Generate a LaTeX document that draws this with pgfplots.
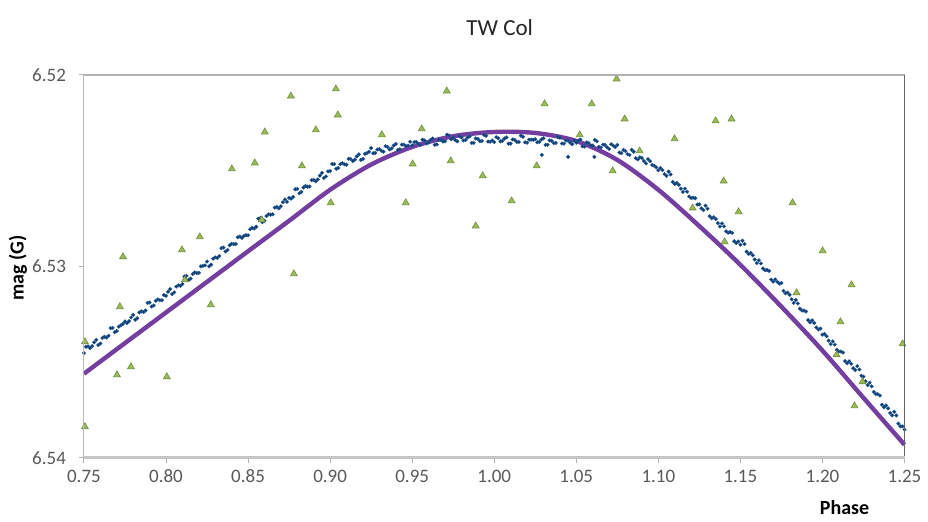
\documentclass[border=0pt]{standalone}
\usepackage{fontspec}
\setmainfont{Carlito}
\usepackage{pgfplots}
\pgfplotsset{compat=1.18}
\usetikzlibrary{calc}
\definecolor{dotnavy}{RGB}{24,56,98}
\definecolor{dotedge}{RGB}{30,95,165}
\definecolor{trifill}{RGB}{155,187,89}
\definecolor{triedge}{RGB}{112,140,58}
\definecolor{fitpurple}{RGB}{115,62,160}
\definecolor{ticktext}{RGB}{89,89,89}

\begin{document}
\begin{tikzpicture}
\begin{axis}[
  scale only axis,
  width=410.5pt, height=191.5pt,
  xmin=0.75, xmax=1.25, ymin=6.52, ymax=6.54,
  y dir=reverse,
  xtick={0.75,0.80,0.85,0.90,0.95,1.00,1.05,1.10,1.15,1.20,1.25},
  ytick={6.52,6.53,6.54},
  xtick pos=left, ytick pos=left,
  tick align=outside, major tick length=2.5pt,
  tick style={gray!60, line width=0.5pt},
  axis line style={draw=none},
  /pgf/number format/assume math mode=true,
  /pgf/number format/fixed,
  /pgf/number format/fixed zerofill,
  /pgf/number format/precision=2,
  yticklabel style={xshift=-3pt},
  tick label style={font=\fontsize{9.5}{11}\selectfont, text=ticktext},
  scaled ticks=false,
  clip=false,
]
% phased photometry (dense band), first half of the points
\addplot[only marks, mark=*, mark size=0.9pt,
  mark options={fill=dotnavy, draw=dotedge, line width=0.2pt}] coordinates {
(0.7500,6.53453)(0.7525,6.53418)(0.7550,6.53417)(0.7575,6.53384)(0.7600,6.53403)
(0.7625,6.53368)(0.7650,6.53363)(0.7675,6.53322)(0.7700,6.53338)(0.7725,6.53308)
(0.7750,6.53288)(0.7775,6.53286)(0.7800,6.53253)(0.7825,6.53271)(0.7850,6.53235)
(0.7875,6.53231)(0.7900,6.53189)(0.7925,6.53204)(0.7950,6.53173)(0.7975,6.53177)
(0.8000,6.53154)(0.8025,6.53119)(0.8050,6.53136)(0.8075,6.53099)(0.8100,6.53093)
(0.8125,6.53050)(0.8150,6.53064)(0.8175,6.53032)(0.8200,6.53034)(0.8225,6.52997)
(0.8250,6.52975)(0.8275,6.52991)(0.8300,6.52953)(0.8325,6.52946)(0.8350,6.52902)
(0.8375,6.52915)(0.8400,6.52882)(0.8425,6.52883)(0.8450,6.52844)(0.8475,6.52841)
(0.8500,6.52838)(0.8525,6.52799)(0.8550,6.52793)(0.8575,6.52748)(0.8600,6.52762)
(0.8625,6.52728)(0.8650,6.52728)(0.8675,6.52690)(0.8700,6.52686)(0.8725,6.52650)
(0.8750,6.52642)(0.8775,6.52637)(0.8800,6.52596)(0.8825,6.52611)(0.8850,6.52580)
(0.8875,6.52583)(0.8900,6.52548)(0.8925,6.52546)(0.8950,6.52512)(0.8975,6.52530)
(0.9000,6.52502)(0.9025,6.52466)(0.9050,6.52486)(0.9075,6.52461)(0.9100,6.52469)
(0.9125,6.52439)(0.9150,6.52443)(0.9175,6.52415)(0.9200,6.52439)(0.9225,6.52408)
(0.9250,6.52382)(0.9275,6.52408)(0.9300,6.52387)(0.9325,6.52401)(0.9350,6.52376)
(0.9375,6.52384)(0.9400,6.52361)(0.9425,6.52389)(0.9450,6.52364)(0.9475,6.52369)
(0.9500,6.52368)(0.9525,6.52350)(0.9550,6.52366)(0.9575,6.52342)(0.9600,6.52353)
(0.9625,6.52332)(0.9650,6.52363)(0.9675,6.52339)(0.9700,6.52346)(0.9725,6.52316)
(0.9750,6.52328)(0.9775,6.52347)(0.9800,6.52326)(0.9825,6.52340)(0.9850,6.52321)
(0.9875,6.52355)(0.9900,6.52334)(0.9925,6.52345)(0.9950,6.52318)(0.9975,6.52349)
(1.0000,6.52351)(1.0025,6.52331)(1.0050,6.52344)(1.0075,6.52326)(1.0100,6.52359)
(1.0125,6.52339)(1.0150,6.52350)(1.0175,6.52323)(1.0200,6.52354)(1.0225,6.52338)
(1.0250,6.52336)(1.0275,6.52350)(1.0300,6.52331)(1.0325,6.52365)(1.0350,6.52344)
(1.0375,6.52355)(1.0400,6.52328)(1.0425,6.52359)(1.0450,6.52343)(1.0475,6.52362)
(1.0500,6.52354)(1.0525,6.52338)(1.0550,6.52374)(1.0575,6.52356)(1.0600,6.52369)
(1.0625,6.52346)(1.0650,6.52379)(1.0675,6.52366)(1.0700,6.52387)(1.0725,6.52369)
(1.0750,6.52366)(1.0775,6.52409)(1.0800,6.52398)(1.0825,6.52418)(1.0850,6.52401)
(1.0875,6.52441)(1.0900,6.52434)(1.0925,6.52462)(1.0950,6.52451)(1.0975,6.52474)
(1.1000,6.52498)(1.1025,6.52497)(1.1050,6.52527)(1.1075,6.52520)(1.1100,6.52570)
(1.1125,6.52574)(1.1150,6.52611)(1.1175,6.52610)(1.1200,6.52643)(1.1225,6.52644)
(1.1250,6.52676)(1.1275,6.52706)(1.1300,6.52699)(1.1325,6.52749)(1.1350,6.52753)
(1.1375,6.52792)(1.1400,6.52791)(1.1425,6.52824)(1.1450,6.52825)(1.1475,6.52878)
(1.1500,6.52887)(1.1525,6.52883)(1.1550,6.52935)(1.1575,6.52942)(1.1600,6.52983)
(1.1625,6.52985)(1.1650,6.53020)(1.1675,6.53024)(1.1700,6.53080)(1.1725,6.53081)
(1.1750,6.53087)(1.1775,6.53141)(1.1800,6.53149)(1.1825,6.53191)(1.1850,6.53194)
(1.1875,6.53231)(1.1900,6.53236)(1.1925,6.53293)(1.1950,6.53296)(1.1975,6.53330)
(1.2000,6.53357)(1.2025,6.53365)(1.2050,6.53406)(1.2075,6.53409)(1.2100,6.53445)
(1.2125,6.53450)(1.2150,6.53506)(1.2175,6.53509)(1.2200,6.53542)(1.2225,6.53539)
(1.2250,6.53576)(1.2275,6.53621)(1.2300,6.53627)(1.2325,6.53667)(1.2350,6.53675)
(1.2375,6.53736)(1.2400,6.53742)(1.2425,6.53779)(1.2450,6.53779)(1.2475,6.53836)
(1.2500,6.53853)
(1.0290,6.52418)(1.0450,6.52428)(1.0610,6.52428)
};
% phased photometry, second half of the points
\addplot[only marks, mark=*, mark size=0.9pt,
  mark options={fill=dotnavy, draw=dotedge, line width=0.2pt}] coordinates {
(0.75125,6.53420)(0.75375,6.53427)(0.75625,6.53397)(0.75875,6.53411)(0.76125,6.53374)
(0.76375,6.53372)(0.76625,6.53323)(0.76875,6.53344)(0.77125,6.53315)(0.77375,6.53300)
(0.77625,6.53296)(0.77875,6.53267)(0.78125,6.53279)(0.78375,6.53241)(0.78625,6.53239)
(0.78875,6.53191)(0.79125,6.53210)(0.79375,6.53180)(0.79625,6.53177)(0.79875,6.53150)
(0.80125,6.53133)(0.80375,6.53145)(0.80625,6.53106)(0.80875,6.53102)(0.81125,6.53053)
(0.81375,6.53071)(0.81625,6.53040)(0.81875,6.53035)(0.82125,6.53000)(0.82375,6.52995)
(0.82625,6.53000)(0.82875,6.52960)(0.83125,6.52956)(0.83375,6.52905)(0.83625,6.52922)
(0.83875,6.52890)(0.84125,6.52884)(0.84375,6.52848)(0.84625,6.52851)(0.84875,6.52837)
(0.85125,6.52806)(0.85375,6.52802)(0.85625,6.52751)(0.85875,6.52769)(0.86125,6.52737)
(0.86375,6.52730)(0.86625,6.52693)(0.86875,6.52697)(0.87125,6.52665)(0.87375,6.52663)
(0.87625,6.52646)(0.87875,6.52597)(0.88125,6.52618)(0.88375,6.52588)(0.88625,6.52584)
(0.88875,6.52550)(0.89125,6.52556)(0.89375,6.52526)(0.89625,6.52538)(0.89875,6.52504)
(0.90125,6.52465)(0.90375,6.52490)(0.90625,6.52466)(0.90875,6.52467)(0.91125,6.52438)
(0.91375,6.52450)(0.91625,6.52426)(0.91875,6.52444)(0.92125,6.52412)(0.92375,6.52401)
(0.92625,6.52409)(0.92875,6.52390)(0.93125,6.52396)(0.93375,6.52372)(0.93625,6.52389)
(0.93875,6.52369)(0.94125,6.52392)(0.94375,6.52364)(0.94625,6.52372)(0.94875,6.52349)
(0.95125,6.52351)(0.95375,6.52360)(0.95625,6.52338)(0.95875,6.52357)(0.96125,6.52339)
(0.96375,6.52365)(0.96625,6.52339)(0.96875,6.52348)(0.97125,6.52312)(0.97375,6.52336)
(0.97625,6.52340)(0.97875,6.52320)(0.98125,6.52342)(0.98375,6.52327)(0.98625,6.52355)
(0.98875,6.52332)(0.99125,6.52346)(0.99375,6.52313)(0.99625,6.52348)(0.99875,6.52342)
(1.00125,6.52325)(1.00375,6.52347)(1.00625,6.52332)(1.00875,6.52359)(1.01125,6.52337)
(1.01375,6.52350)(1.01625,6.52317)(1.01875,6.52352)(1.02125,6.52338)(1.02375,6.52339)
(1.02625,6.52352)(1.02875,6.52337)(1.03125,6.52365)(1.03375,6.52342)(1.03625,6.52356)
(1.03875,6.52323)(1.04125,6.52358)(1.04375,6.52343)(1.04625,6.52354)(1.04875,6.52342)
(1.05125,6.52343)(1.05375,6.52373)(1.05625,6.52353)(1.05875,6.52368)(1.06125,6.52339)
(1.06375,6.52376)(1.06625,6.52364)(1.06875,6.52378)(1.07125,6.52362)(1.07375,6.52377)
(1.07625,6.52405)(1.07875,6.52392)(1.08125,6.52414)(1.08375,6.52391)(1.08625,6.52435)
(1.08875,6.52430)(1.09125,6.52450)(1.09375,6.52440)(1.09625,6.52471)(1.09875,6.52483)
(1.10125,6.52486)(1.10375,6.52518)(1.10625,6.52505)(1.10875,6.52559)(1.11125,6.52564)
(1.11375,6.52594)(1.11625,6.52594)(1.11875,6.52635)(1.12125,6.52641)(1.12375,6.52677)
(1.12625,6.52697)(1.12875,6.52683)(1.13125,6.52738)(1.13375,6.52743)(1.13625,6.52774)
(1.13875,6.52776)(1.14125,6.52817)(1.14375,6.52821)(1.14625,6.52869)(1.14875,6.52870)
(1.15125,6.52866)(1.15375,6.52923)(1.15625,6.52930)(1.15875,6.52964)(1.16125,6.52968)
(1.16375,6.53011)(1.16625,6.53019)(1.16875,6.53069)(1.17125,6.53068)(1.17375,6.53090)
(1.17625,6.53128)(1.17875,6.53137)(1.18125,6.53172)(1.18375,6.53176)(1.18625,6.53221)
(1.18875,6.53231)(1.19125,6.53281)(1.19375,6.53282)(1.19625,6.53319)(1.19875,6.53325)
(1.20125,6.53353)(1.20375,6.53388)(1.20625,6.53392)(1.20875,6.53436)(1.21125,6.53445)
(1.21375,6.53495)(1.21625,6.53496)(1.21875,6.53532)(1.22125,6.53521)(1.22375,6.53572)
(1.22625,6.53600)(1.22875,6.53608)(1.23125,6.53656)(1.23375,6.53668)(1.23625,6.53723)
(1.23875,6.53727)(1.24125,6.53766)(1.24375,6.53760)(1.24625,6.53822)(1.24875,6.53836)
};
% fitted light curve
\addplot[fitpurple, line width=2.2pt, smooth] coordinates {
(0.750,6.53561)(0.775,6.53401)(0.800,6.53241)(0.825,6.53081)(0.850,6.52921)
(0.875,6.52762)(0.900,6.52600)(0.925,6.52468)(0.950,6.52376)(0.975,6.52320)
(1.000,6.52298)(1.025,6.52303)(1.050,6.52345)(1.075,6.52444)(1.100,6.52600)
(1.125,6.52790)(1.150,6.52992)(1.175,6.53211)(1.200,6.53440)(1.225,6.53687)
(1.250,6.53932)
};
% sparse photometry
\addplot[only marks, mark=triangle*, mark size=2pt,
  mark options={fill=trifill, draw=triedge, line width=0.3pt}] coordinates {
(0.7506,6.53394)(0.7506,6.53838)(0.7701,6.53567)(0.7738,6.52950)(0.7719,6.53211)
(0.7786,6.53525)(0.8005,6.53577)(0.8097,6.52914)(0.8206,6.52846)(0.8115,6.53071)
(0.8273,6.53201)(0.8401,6.52491)(0.8541,6.52460)(0.8602,6.52298)(0.8761,6.52110)
(0.8584,6.52757)(0.8828,6.52475)(0.8913,6.52287)(0.9035,6.52073)(0.9047,6.52209)
(0.9004,6.52668)(0.8779,6.53039)(0.9315,6.52313)(0.9461,6.52668)(0.9503,6.52465)
(0.9558,6.52282)(0.9711,6.52084)(0.9735,6.52449)(0.9930,6.52527)(0.9887,6.52789)
(1.0106,6.52658)(1.0307,6.52151)(1.0259,6.52475)(1.0594,6.52151)(1.0746,6.52021)
(1.0795,6.52230)(1.0722,6.52501)(1.0521,6.52313)(1.0886,6.52397)(1.1099,6.52334)
(1.1349,6.52240)(1.1446,6.52230)(1.1398,6.52554)(1.1489,6.52715)(1.1209,6.52695)
(1.1404,6.52872)(1.1818,6.52668)(1.2001,6.52919)(1.1842,6.53138)(1.2177,6.53097)
(1.2110,6.53290)(1.2086,6.53462)(1.2244,6.53603)(1.2195,6.53729)(1.2488,6.53405)
};
\end{axis}
% chart frame
\draw[gray!55, line width=0.5pt] (current axis.south west) -- (current axis.north west);
\draw[gray!60, line width=1pt] (current axis.north west) -- (current axis.north east);
\draw[black!60, line width=0.5pt] (current axis.north east) -- (current axis.south east);
\draw[gray!45, line width=1.5pt] (current axis.south west) -- (current axis.south east);
% titles
\node[font=\fontsize{11.5}{13}\selectfont, text=black!85] at ($(current axis.north)+(2.75pt,23.5pt)$) {TW Col};
\node[rotate=90, font=\bfseries\fontsize{10}{12}\selectfont] at ($(current axis.west)+(-33pt,-0.75pt)$) {mag (G)};
\node[font=\bfseries\fontsize{10}{12}\selectfont] at ($(current axis.south east)+(-30pt,-25pt)$) {Phase};
\path ($(current axis.south west)+(-42pt,-31pt)$) rectangle ($(current axis.north east)+(11.5pt,37.5pt)$);
\end{tikzpicture}
\end{document}
